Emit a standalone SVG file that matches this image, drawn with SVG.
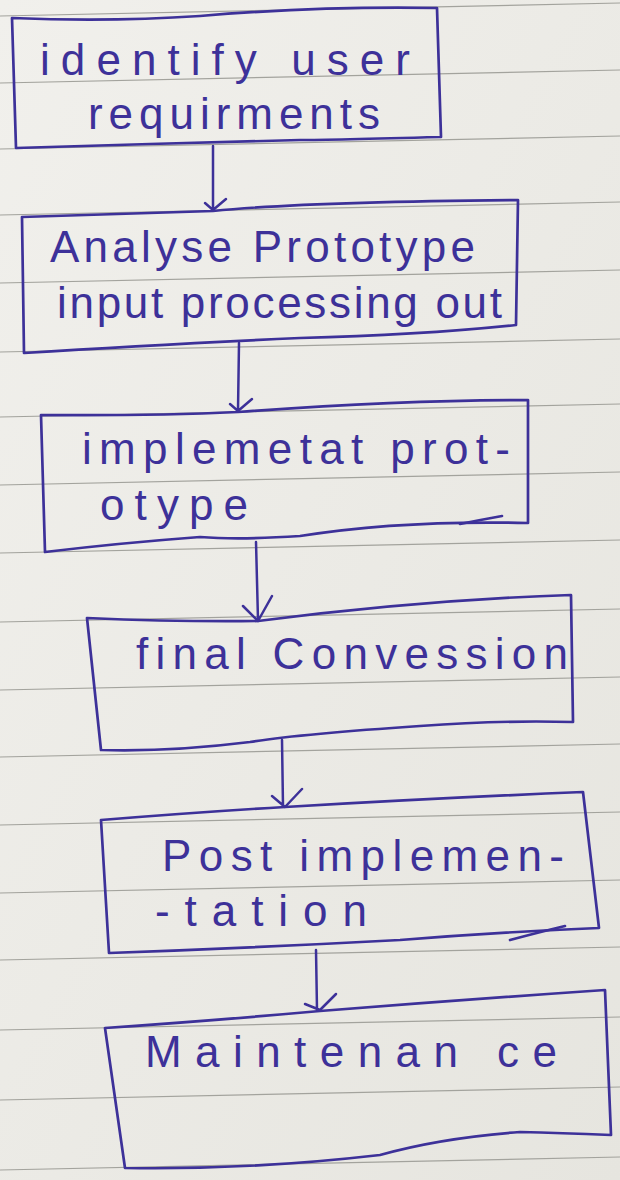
<svg xmlns="http://www.w3.org/2000/svg" width="620" height="1180" viewBox="0 0 620 1180">
<style>
.rule{stroke:#a3a39d;stroke-width:1.2;fill:none}
.box{fill:none;stroke:#3d3199;stroke-width:2.7;stroke-linejoin:round;stroke-linecap:round}
.conn{fill:none;stroke:#3d3199;stroke-width:2.5;stroke-linecap:round;stroke-linejoin:round}
.t{font-family:"Liberation Sans","DejaVu Sans",sans-serif;font-size:44px;fill:#3d3199}
</style>
<defs>
<linearGradient id="bg" x1="0" y1="0" x2="1" y2="1">
<stop offset="0" stop-color="#f1f0ec"/>
<stop offset="1" stop-color="#e6e5df"/>
</linearGradient>
</defs>
<rect width="620" height="1180" fill="url(#bg)"/>
<g id="rules">
<line class="rule" x1="0" y1="16" x2="620" y2="3"/>
<line class="rule" x1="0" y1="83" x2="620" y2="70"/>
<line class="rule" x1="0" y1="149" x2="620" y2="136"/>
<line class="rule" x1="0" y1="215" x2="620" y2="202"/>
<line class="rule" x1="0" y1="283" x2="620" y2="270"/>
<line class="rule" x1="0" y1="352" x2="620" y2="339"/>
<line class="rule" x1="0" y1="417" x2="620" y2="404"/>
<line class="rule" x1="0" y1="485" x2="620" y2="472"/>
<line class="rule" x1="0" y1="553" x2="620" y2="540"/>
<line class="rule" x1="0" y1="622" x2="620" y2="609"/>
<line class="rule" x1="0" y1="690" x2="620" y2="677"/>
<line class="rule" x1="0" y1="757" x2="620" y2="744"/>
<line class="rule" x1="0" y1="825" x2="620" y2="812"/>
<line class="rule" x1="0" y1="893" x2="620" y2="880"/>
<line class="rule" x1="0" y1="960" x2="620" y2="947"/>
<line class="rule" x1="0" y1="1030" x2="620" y2="1017"/>
<line class="rule" x1="0" y1="1100" x2="620" y2="1087"/>
<line class="rule" x1="0" y1="1170" x2="620" y2="1157"/>
</g>
<g id="connectors">
<path class="conn" d="M213 146 L213 210 M205 203 L213 210 L226 199"/>
<path class="conn" d="M239 343 L238 410 M230 404 L238 411 L252 399"/>
<path class="conn" d="M256 542 L258 620 M243 606 L258 621 L272 596"/>
<path class="conn" d="M282 740 L283 806 M272 796 L285 807 L302 789"/>
<path class="conn" d="M316 950 L317 1010 M305 1004 L320 1010 L336 994"/>
</g>
<g id="n1">
<path class="box" d="M12 18 Q110 22 200 16 Q320 6 437 8 L441 137 Q330 140 300 140 Q220 142 150 144 L16 148 Z"/>
<text class="t" x="40" y="75" textLength="370" lengthAdjust="spacing">identify user</text>
<text class="t" x="88" y="129" textLength="292" lengthAdjust="spacing">requirments</text>
</g>
<g id="n2">
<path class="box" d="M22 217 Q120 214 213 211 Q300 202 518 200 L516 325 Q420 335 300 338 Q150 345 24 353 Z"/>
<text class="t" x="50" y="262" textLength="425" lengthAdjust="spacing">Analyse Prototype</text>
<text class="t" x="57" y="318" textLength="445" lengthAdjust="spacing">input processing out</text>
</g>
<g id="n3">
<path class="box" d="M41 415 Q150 416 238 412 Q400 400 528 400 L528 523 Q400 520 300 536 Q240 540 200 537 Q120 543 45 552 Z"/>
<path class="box" d="M502 516 Q480 520 460 524"/>
<text class="t" x="82" y="464" textLength="428" lengthAdjust="spacing">implemetat prot-</text>
<text class="t" x="100" y="520" textLength="148" lengthAdjust="spacing">otype</text>
</g>
<g id="n4">
<path class="box" d="M87 618 Q180 622 258 621 Q420 600 571 595 L573 722 Q500 720 420 726 Q300 734 250 742 Q170 752 101 750 Z"/>
<text class="t" x="136" y="669" textLength="432" lengthAdjust="spacing">final Convession</text>
</g>
<g id="n5">
<path class="box" d="M101 820 Q200 812 285 807 Q440 798 583 792 L599 928 Q500 932 400 940 Q250 948 109 953 Z"/>
<path class="box" d="M510 940 Q540 932 565 926"/>
<text class="t" x="162" y="871" textLength="402" lengthAdjust="spacing">Post implemen-</text>
<text class="t" x="155" y="926" textLength="212" lengthAdjust="spacing">-tation</text>
</g>
<g id="n6">
<path class="box" d="M105 1028 Q220 1020 320 1011 Q460 1000 605 990 L611 1135 Q560 1133 520 1132 Q440 1138 380 1155 Q250 1170 125 1168 Z"/>
<text class="t" x="145" y="1067" textLength="412" lengthAdjust="spacing">Maintenan ce</text>
</g>
</svg>
